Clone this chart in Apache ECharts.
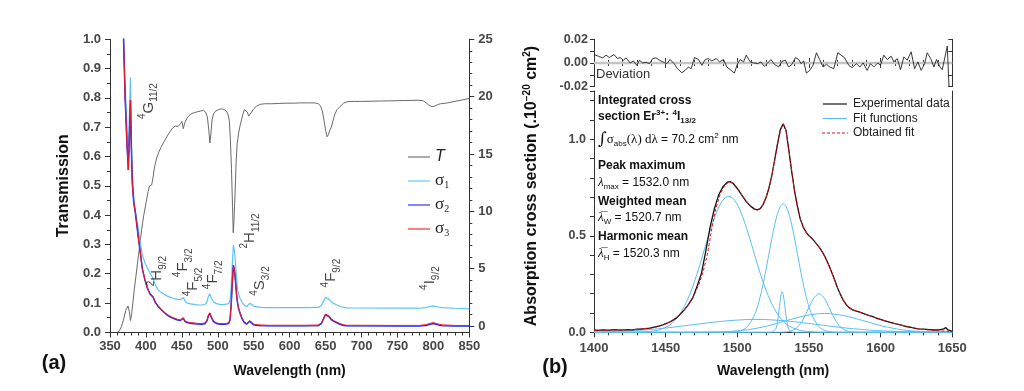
<!DOCTYPE html>
<html><head><meta charset="utf-8">
<script src="https://cdn.jsdelivr.net/npm/echarts@6/dist/echarts.min.js"></script>
<style>html,body{margin:0;padding:0;background:#fff}#c{width:1024px;height:391px}</style>
</head><body><div id="c"></div>
<script>
// ---------- (a) transmission ----------
const transWl = [360,363,366,369,372,375,377,378.5,380,382,384,386,388,390,392,394,397,400,403,405,408,410,412,415,418,421,425,429,433,437,441,445,448,450,452,454,457,460,464,468,472,476,480,483,485.5,487.5,489,490.5,492,494,497,501,505,509,512,514,516,517.5,519,520.5,521.5,522.5,524,525.5,527,529,531,533,535,537,539,541,543,545,547,550,554,559,565,575,585,595,605,615,625,635,640,643,645.5,648,650,652,654,656,658,660,663,666,670,675,680,690,700,720,740,760,780,786,790,794,798,802,806,810,820,830,840,850];
const transVal = [0,0.005,0.02,0.045,0.075,0.09,0.07,0.04,0.06,0.105,0.15,0.19,0.23,0.27,0.31,0.35,0.40,0.44,0.48,0.50,0.503,0.53,0.565,0.595,0.615,0.632,0.65,0.667,0.683,0.697,0.704,0.703,0.712,0.72,0.695,0.715,0.73,0.74,0.747,0.75,0.753,0.755,0.758,0.752,0.735,0.69,0.646,0.68,0.725,0.745,0.755,0.76,0.763,0.76,0.755,0.745,0.724,0.66,0.56,0.43,0.34,0.38,0.47,0.58,0.645,0.68,0.705,0.725,0.745,0.76,0.764,0.752,0.738,0.738,0.752,0.763,0.772,0.778,0.78,0.78,0.781,0.782,0.782,0.783,0.783,0.783,0.78,0.772,0.755,0.72,0.69,0.667,0.675,0.69,0.7,0.72,0.745,0.76,0.77,0.782,0.787,0.788,0.788,0.789,0.79,0.791,0.792,0.79,0.783,0.775,0.77,0.772,0.777,0.78,0.783,0.788,0.793,0.798];

// ---------- (a) cross sections ----------
const sigmaWl = [368,371,373.5,375.5,377,378.5,379.5,381,383,385,387,390,392,395,398.7,402,405.7,408,410,413,416.5,420,425,429,433,438,443,448,450,452,454,457,462,467,472,477,482,485,487,489,491,494,498,503,508,512,515,517,518.5,520,521.7,523,524.5,526,527.5,529,531,534,537,540,542,544.5,547,550,555,560,570,600,620,640,644,647,650,652.5,655,658,661,665,670,675,680,700,750,780,790,795,800,805,812,830,850];
const sigma1 = [27,21,17.5,15.6,18.5,21.7,17,13.5,11.2,10.2,9.4,8.2,7.3,6.2,5.5,5.05,4.6,4.45,4.15,3.6,3.2,2.98,2.78,2.63,2.52,2.42,2.34,2.29,2.3,2.48,2.22,2.02,1.93,1.88,1.85,1.83,1.87,2.1,2.6,2.8,2.45,2.1,1.95,1.89,1.87,1.9,1.95,2.2,3.3,5.1,7.05,6.6,5.6,4.2,3.2,2.75,2.4,2.05,1.8,1.68,1.8,1.98,1.88,1.74,1.66,1.62,1.6,1.6,1.6,1.62,1.78,2.15,2.5,2.55,2.3,2.1,1.98,1.85,1.7,1.62,1.57,1.57,1.55,1.55,1.6,1.7,1.75,1.68,1.6,1.55,1.5];
const sigma2 = [27,20,16,13.6,16.5,19.7,16,12.5,10.8,10.0,9.0,7.4,6.5,5.0,4.0,3.3,2.8,2.7,2.5,2.05,1.75,1.5,1.2,0.98,0.82,0.67,0.55,0.48,0.45,0.68,0.42,0.3,0.24,0.2,0.17,0.15,0.2,0.45,0.9,1.12,0.75,0.38,0.22,0.15,0.15,0.17,0.22,0.5,1.7,3.5,5.3,4.95,4.0,2.8,2.0,1.5,1.1,0.6,0.3,0.16,0.28,0.42,0.3,0.1,0.05,0.03,0.0,0.0,0.0,0.03,0.2,0.6,1.0,1.1,0.8,0.55,0.42,0.3,0.15,0.05,0.0,0.0,-0.02,-0.02,0.05,0.15,0.22,0.12,0.03,-0.03,-0.05];
const sigma3 = [27,20,16,13.6,16.5,19.7,16,12.5,10.8,10.0,9.0,7.4,6.5,5.0,4.0,3.3,2.85,2.75,2.55,2.1,1.8,1.55,1.25,1.03,0.87,0.72,0.6,0.53,0.5,0.72,0.47,0.36,0.3,0.26,0.23,0.21,0.26,0.5,0.95,1.15,0.8,0.44,0.28,0.21,0.21,0.23,0.28,0.55,1.75,3.5,5.3,4.95,4.0,2.85,2.05,1.55,1.15,0.66,0.36,0.22,0.33,0.47,0.36,0.16,0.11,0.09,0.06,0.06,0.06,0.09,0.26,0.65,1.05,1.12,0.85,0.6,0.47,0.36,0.21,0.11,0.06,0.06,0.05,0.05,0.12,0.22,0.3,0.2,0.1,0.05,0.04];

// energy level annotations (wavelength, transmission-axis value, term symbol)
const levelWl  = [403.6,415.4,451.6,465.5,493.3,544.8,558.7,657.5,795.3];
const levelT   = [0.789,0.209,0.237,0.172,0.196,0.346,0.175,0.202,0.185];
const levelSup = ['4','2','4','4','4','2','4','4','4'];
const levelMain= ['G','H','F','F','F','H','S','F','I'];
const levelSub = ['11/2','9/2','3/2','5/2','7/2','11/2','3/2','9/2','9/2'];

// ---------- (b) deviation ----------
const devWl = [1400.0,1403.0,1406.1,1408.4,1410.7,1414.0,1416.3,1418.2,1420.5,1422.4,1425.2,1427.5,1429.8,1431.7,1434.0,1436.3,1438.7,1441.0,1443.3,1445.7,1448.0,1450.8,1453.1,1455.9,1458.2,1461.3,1463.6,1465.9,1467.8,1470.1,1472.9,1475.3,1477.6,1479.9,1482.2,1485.3,1487.6,1490.4,1492.7,1495.1,1497.9,1500.2,1502.0,1504.4,1506.2,1509.0,1511.4,1514.2,1516.5,1518.8,1521.2,1523.5,1525.8,1528.8,1531.2,1533.5,1535.8,1538.2,1540.5,1542.8,1544.5,1546.3,1548.2,1550.5,1552.8,1555.2,1557.5,1559.8,1562.2,1564.5,1567.3,1570.1,1572.4,1574.7,1577.8,1580.1,1583.1,1585.5,1587.8,1590.6,1592.9,1595.2,1598.0,1599.9,1602.2,1604.6,1607.4,1609.2,1611.6,1613.9,1616.2,1618.5,1621.3,1623.7,1626.0,1628.3,1630.7,1632.5,1634.9,1637.2,1639.0,1641.4,1643.0,1646.5,1647.7,1648.4];
const devVal = [0.0071,0.0057,0.0043,0.0066,0.0046,0.0071,0.0037,0.0046,0.0023,0.0043,0,0.0017,-0.0020,0.0023,0,0.0006,-0.0006,0.0037,0.0043,0.0023,0.0009,-0.0006,0.0029,-0.0006,-0.0049,-0.0083,-0.0063,-0.0034,-0.0049,0.0046,0.0029,-0.0020,0.0029,0.0037,0.0017,0.0037,0.0009,0.0029,-0.0034,-0.0057,-0.0086,-0.0006,0.0029,0.0009,0.0066,0.0009,0,-0.0006,0.0009,-0.0029,0,0.0029,-0.0011,-0.0034,0.0014,0.0023,-0.0034,-0.0011,0.0046,0.0029,-0.0006,0.0017,-0.0086,-0.0063,-0.0020,0.0086,0.0029,-0.0034,-0.0011,-0.0034,-0.0049,0.0086,0.0066,0.0046,-0.0020,-0.0040,-0.0006,-0.0034,0,-0.0063,-0.0006,-0.0034,0,-0.0020,0.0066,0.0029,0.0057,0.0009,0.0037,-0.0057,0.0051,0.0023,0.0094,-0.0049,0.0009,-0.0063,-0.0006,0.0086,0.0037,-0.0034,0.0029,-0.0034,-0.0057,0.0143,-0.0206,-0.0250];
const zeroWl = [1400,1650];
const zeroVal = [0,0];

// ---------- (b) absorption ----------
const expWl = [1400,1403,1406,1409,1412,1415,1418,1421,1424,1427,1430,1433,1436,1439,1442,1445,1448,1451,1454,1457,1460,1463,1466,1469,1472,1475,1478,1481,1484,1487,1490,1493,1495,1497,1500,1503,1506,1509,1512,1514,1516,1518,1520,1522,1524,1526,1528,1530,1532,1534,1536,1538,1540,1542,1544,1546,1548,1550,1552,1554,1556,1558,1560,1562,1564,1566,1568,1570,1572,1574,1576,1578,1580,1583,1586,1590,1594,1598,1602,1606,1610,1614,1618,1622,1626,1630,1634,1638,1641,1644,1645.5,1647,1650];
const expVal = [0.012,0.010,0.013,0.011,0.012,0.014,0.011,0.013,0.014,0.013,0.016,0.017,0.019,0.022,0.027,0.032,0.039,0.047,0.058,0.072,0.092,0.116,0.145,0.180,0.240,0.306,0.420,0.545,0.640,0.712,0.754,0.778,0.781,0.772,0.745,0.712,0.680,0.655,0.638,0.634,0.641,0.662,0.697,0.745,0.810,0.890,0.975,1.050,1.080,1.045,0.940,0.830,0.730,0.650,0.585,0.545,0.518,0.500,0.487,0.470,0.452,0.432,0.408,0.378,0.345,0.308,0.270,0.228,0.195,0.165,0.143,0.128,0.118,0.110,0.103,0.092,0.082,0.071,0.062,0.053,0.045,0.038,0.030,0.024,0.018,0.016,0.014,0.012,0.013,0.018,0.024,0.012,0.005];
const fitWl = [1400,1410,1420,1430,1440,1445,1450,1455,1460,1465,1470,1473,1476,1479,1482,1485,1488,1491,1494,1497,1500,1503,1506,1509,1512,1514,1516,1518,1520,1522,1524,1526,1528,1530,1532,1534,1536,1538,1540,1542,1544,1546,1548,1550,1552,1554,1556,1558,1560,1562,1564,1566,1568,1570,1572,1574,1576,1578,1580,1584,1590,1596,1602,1608,1614,1620,1626,1632,1640,1650];
const fitVal = [0.010,0.011,0.012,0.015,0.022,0.030,0.044,0.062,0.090,0.135,0.195,0.245,0.31,0.40,0.53,0.64,0.715,0.758,0.778,0.772,0.748,0.714,0.682,0.656,0.639,0.635,0.642,0.663,0.698,0.746,0.808,0.888,0.972,1.045,1.078,1.044,0.942,0.830,0.730,0.650,0.587,0.546,0.519,0.501,0.486,0.470,0.452,0.431,0.407,0.378,0.345,0.307,0.268,0.228,0.194,0.166,0.144,0.129,0.119,0.107,0.092,0.077,0.062,0.049,0.037,0.027,0.019,0.013,0.008,0.005];
const fitFunc1 = [[1400,0],[1426,0.0002],[1443,0.008],[1451.5,0.031],[1455.75,0.056],[1460,0.095],[1464.25,0.153],[1468.5,0.229],[1472.75,0.323],[1477,0.428],[1481.25,0.532],[1485.5,0.622],[1489.75,0.683],[1494,0.705],[1498.25,0.683],[1502.5,0.622],[1506.75,0.532],[1511,0.428],[1515.25,0.323],[1519.5,0.229],[1523.75,0.153],[1528,0.095],[1532.25,0.056],[1536.5,0.031],[1545,0.008],[1562,0.0002],[1650,0]];
const fitFunc2 = [[1400,0],[1492,0],[1502,0.007],[1507,0.029],[1512,0.090],[1514.5,0.144],[1517,0.216],[1519.5,0.305],[1522,0.404],[1524.5,0.502],[1527,0.587],[1529.5,0.644],[1532,0.665],[1534.5,0.644],[1537,0.587],[1539.5,0.502],[1542,0.404],[1544.5,0.305],[1547,0.216],[1549.5,0.144],[1552,0.090],[1557,0.029],[1562,0.007],[1572,0],[1650,0]];
const fitFunc3 = [[1400,0],[1523,0],[1525,0.004],[1527,0.021],[1528.5,0.079],[1529.5,0.14],[1530.5,0.194],[1531.3,0.21],[1532,0.197],[1533,0.146],[1534,0.084],[1535.5,0.023],[1537.5,0.003],[1540,0],[1650,0]];
const fitFunc4 = [[1400,0],[1527,0],[1534.5,0.002],[1538.25,0.009],[1542,0.027],[1545.75,0.065],[1549.5,0.121],[1553.25,0.176],[1557,0.2],[1560.75,0.176],[1564.5,0.121],[1568.25,0.065],[1572,0.027],[1575.75,0.009],[1579.5,0.002],[1587,0],[1650,0]];
const fitFunc5 = [[1400,0],[1453,0],[1480,0.001],[1493.5,0.004],[1507,0.013],[1520.5,0.032],[1534,0.060],[1547.5,0.086],[1561,0.098],[1574.5,0.086],[1588,0.060],[1601.5,0.032],[1615,0.013],[1628.5,0.004],[1642,0.001],[1650,0]];
const fitFunc6 = [[1400,0.002],[1408,0.003],[1429,0.009],[1450,0.022],[1471,0.041],[1492,0.059],[1513,0.067],[1534,0.059],[1555,0.041],[1576,0.022],[1597,0.009],[1618,0.003],[1639,0.001],[1650,0]];

// ---------- helpers & styles ----------
const zip = (a, b) => a.map((x, i) => [x, b[i]]);
const FONT = 'Liberation Sans, Arial, Helvetica, sans-serif';
const AX = '#333';
const LAB = '#474747';
const labStyle = {fontFamily: FONT, fontWeight: 'bold', fontSize: 13, color: LAB};
const nameStyle = {fontFamily: FONT, fontWeight: 'bold', fontSize: 14, color: '#111'};
const C1 = '#5cc3f6', C2 = '#2424f5', C3 = '#f01c24', CFIT = '#5bbdf2';
const lineAx = {show: true, lineStyle: {color: AX, width: 1}};
const tickOut = {show: true, length: 5, lineStyle: {color: AX}};
const tickIn = {show: true, inside: true, length: 5, lineStyle: {color: AX}};
const noSplit = {show: false};
const SOLID = 'path://M0,0H20V1H0Z';
const DASH = 'path://M0,0h3v1h-3zM5,0h3v1h-3zM10,0h3v1h-3zM15,0h3v1h-3zM20,0h3v1h-3zM25,0h1v1h-1z';
const plain = v => String(v);

const chart = echarts.init(document.getElementById('c'), null, {renderer: 'canvas'});

const levelData = levelWl.map((w, i) => [w, levelT[i], levelSup[i], levelMain[i], levelSub[i]]);

function richLine(x, y, text, extra) {
  return Object.assign({
    type: 'text', x: x, y: y, silent: true,
    style: {
      text: text, align: 'left', verticalAlign: 'middle', fill: '#111',
      fontFamily: FONT, fontSize: 12, lineHeight: 16,
      rich: {
        b: {fontFamily: FONT, fontWeight: 'bold', fontSize: 12, lineHeight: 16, fill: '#111'},
        bsup: {fontFamily: FONT, fontWeight: 'bold', fontSize: 8, lineHeight: 8, verticalAlign: 'top', fill: '#111'},
        bsub: {fontFamily: FONT, fontWeight: 'bold', fontSize: 8, lineHeight: 8, verticalAlign: 'bottom', fill: '#111'},
        n: {fontFamily: FONT, fontSize: 12, lineHeight: 16, fill: '#111'},
        ser: {fontFamily: 'Liberation Serif, serif', fontSize: 13, lineHeight: 16, fill: '#111'},
        it: {fontFamily: 'Liberation Serif, serif', fontStyle: 'italic', fontSize: 13, lineHeight: 16, fill: '#111'},
        sub: {fontFamily: FONT, fontSize: 8, lineHeight: 8, verticalAlign: 'bottom', fill: '#111'},
        sup: {fontFamily: FONT, fontSize: 8, lineHeight: 8, verticalAlign: 'top', fill: '#111'},
        int: {fontFamily: 'DejaVu Serif, serif', fontSize: 17, lineHeight: 16, fill: '#111'}
      }
    }
  }, extra || {});
}

const option = {
  animation: false,
  backgroundColor: '#fff',
  textStyle: {fontFamily: FONT},
  grid: [
    {left: 110, top: 39.3, width: 359.3, height: 293},
    {left: 110, top: 39.3, width: 359.3, height: 286.7},
    {left: 594, top: 39.3, width: 358.3, height: 47.3},
    {left: 594, top: 91, width: 358.3, height: 241.3}
  ],
  xAxis: [
    {gridIndex: 0, type: 'value', min: 350, max: 850, interval: 50, position: 'bottom',
     axisLine: lineAx, axisTick: tickOut, minorTick: {show: true, splitNumber: 5, length: 3, lineStyle: {color: AX}},
     splitLine: noSplit, minorSplitLine: noSplit, axisLabel: Object.assign({margin: 8, formatter: plain}, labStyle),
     name: 'Wavelength (nm)', nameLocation: 'middle', nameGap: 32, nameTextStyle: nameStyle},
    {gridIndex: 0, type: 'value', min: 350, max: 850, interval: 50, position: 'top',
     axisLine: lineAx, axisTick: tickIn, minorTick: {show: true, splitNumber: 5, length: 3, lineStyle: {color: AX}},
     splitLine: noSplit, axisLabel: {show: false}},
    {gridIndex: 1, type: 'value', min: 350, max: 850, show: false, splitLine: noSplit},
    {gridIndex: 2, type: 'value', min: 1400, max: 1650, interval: 50, position: 'bottom',
     axisLine: lineAx, axisTick: tickIn, minorTick: {show: true, splitNumber: 5, length: 3, lineStyle: {color: AX}},
     splitLine: noSplit, axisLabel: {show: false}},
    {gridIndex: 2, type: 'value', min: 1400, max: 1650, interval: 50, position: 'top',
     axisLine: lineAx, axisTick: tickIn, minorTick: {show: true, splitNumber: 5, length: 3, lineStyle: {color: AX}},
     splitLine: noSplit, axisLabel: {show: false}},
    {gridIndex: 3, type: 'value', min: 1400, max: 1650, interval: 50, position: 'bottom',
     axisLine: lineAx, axisTick: tickOut, minorTick: {show: true, splitNumber: 5, length: 3, lineStyle: {color: AX}},
     splitLine: noSplit, axisLabel: Object.assign({margin: 10, formatter: plain}, labStyle),
     name: 'Wavelength (nm)', nameLocation: 'middle', nameGap: 32, nameTextStyle: nameStyle},
    {gridIndex: 3, type: 'value', min: 1400, max: 1650, position: 'top',
     axisLine: lineAx, axisTick: {show: false}, splitLine: noSplit, axisLabel: {show: false}}
  ],
  yAxis: [
    {gridIndex: 0, type: 'value', min: 0, max: 1, interval: 0.1, position: 'left',
     axisLine: lineAx, axisTick: tickOut, minorTick: {show: true, splitNumber: 2, length: 3, lineStyle: {color: AX}},
     splitLine: noSplit, axisLabel: Object.assign({margin: 9, formatter: v => v.toFixed(1)}, labStyle),
     name: 'Transmission', nameLocation: 'middle', nameGap: 38,
     nameTextStyle: {fontFamily: FONT, fontWeight: 'bold', fontSize: 16, color: '#111'}},
    {gridIndex: 1, type: 'value', min: 0, max: 25, interval: 5, position: 'right',
     axisLine: lineAx, axisTick: tickOut, minorTick: {show: true, splitNumber: 5, length: 3, lineStyle: {color: AX}},
     splitLine: noSplit, axisLabel: Object.assign({margin: 9}, labStyle)},
    {gridIndex: 0, type: 'value', min: 0, max: 1, position: 'right',
     axisLine: lineAx, axisTick: {show: false}, splitLine: noSplit, axisLabel: {show: false}},
    {gridIndex: 2, type: 'value', min: -0.02, max: 0.02, interval: 0.01, position: 'left',
     axisLine: lineAx, axisTick: {show: true, length: 4, lineStyle: {color: AX}},
     splitLine: noSplit,
     axisLabel: Object.assign({margin: 6, formatter: v => (Math.round(v * 100) % 2 === 0 ? (Math.abs(v) < 1e-9 ? '0.00' : v.toFixed(2)) : '')}, labStyle, {fontSize: 12.5})},
    {gridIndex: 2, type: 'value', min: -0.02, max: 0.02, interval: 0.01, position: 'right',
     axisLine: lineAx, axisTick: {show: true, inside: true, length: 4, lineStyle: {color: AX}},
     splitLine: noSplit, axisLabel: {show: false}},
    {gridIndex: 3, type: 'value', min: 0, max: 1.25, interval: 0.1, position: 'left',
     axisLine: lineAx, axisTick: {show: true, length: 4, lineStyle: {color: AX}},
     splitLine: noSplit,
     axisLabel: Object.assign({margin: 8, formatter: v => (Math.abs(v * 2 - Math.round(v * 2)) < 1e-6 ? v.toFixed(1) : '')}, labStyle, {fontSize: 12.5})},
    {gridIndex: 3, type: 'value', min: 0, max: 1.25, position: 'right',
     axisLine: lineAx, axisTick: {show: false}, splitLine: noSplit, axisLabel: {show: false}}
  ],
  legend: [
    {left: 408, top: 148, orient: 'vertical', padding: 0, itemGap: 6, itemWidth: 22, itemHeight: 1.5,
     itemStyle: {borderWidth: 0},
     data: [{name: 'T', icon: SOLID}, {name: 'σ1', icon: SOLID}, {name: 'σ2', icon: SOLID}, {name: 'σ3', icon: SOLID}],
     formatter: name => name === 'T' ? '{it|T}' : '{s|σ}{sub|' + name.slice(1) + '}',
     textStyle: {color: '#222', fontSize: 15, lineHeight: 18,
       rich: {
         it: {fontFamily: FONT, fontStyle: 'italic', fontSize: 16, lineHeight: 18, color: '#222'},
         s: {fontFamily: 'Liberation Serif, serif', fontSize: 17, lineHeight: 18, color: '#222'},
         sub: {fontFamily: 'Liberation Serif, serif', fontSize: 10, lineHeight: 10, verticalAlign: 'bottom', color: '#222'}
       }}},
    {left: 822, top: 97, orient: 'vertical', padding: 0, itemGap: 0.5, itemWidth: 26, itemHeight: 1.2,
     itemStyle: {borderWidth: 0},
     data: [{name: 'Experimental data', icon: SOLID}, {name: 'Fit functions', icon: SOLID}, {name: 'Obtained fit', icon: DASH}],
     textStyle: {fontFamily: FONT, fontSize: 12, lineHeight: 14, color: '#222'}}
  ],
  series: [
    {name: 'T', type: 'line', xAxisIndex: 0, yAxisIndex: 0, data: zip(transWl, transVal), symbol: 'none',
     color: '#6a6a6a', lineStyle: {width: 1, color: '#6a6a6a'}, z: 3},
    {name: 'σ1', type: 'line', xAxisIndex: 2, yAxisIndex: 1, data: zip(sigmaWl, sigma1), symbol: 'none',
     color: C1, lineStyle: {width: 1.2, color: C1}, z: 3},
    {name: 'σ2', type: 'line', xAxisIndex: 2, yAxisIndex: 1, data: zip(sigmaWl, sigma2), symbol: 'none',
     color: C2, lineStyle: {width: 1.5, color: C2}, z: 3},
    {name: 'σ3', type: 'line', xAxisIndex: 2, yAxisIndex: 1, data: zip(sigmaWl, sigma3), symbol: 'none',
     color: C3, lineStyle: {width: 1, color: C3}, z: 4},
    {type: 'scatter', xAxisIndex: 0, yAxisIndex: 0, data: levelData, symbolSize: 0, silent: true, z: 5,
     label: {show: true, position: 'inside', rotate: 90, align: 'center', verticalAlign: 'middle',
       formatter: p => '{sup|' + p.data[2] + '}{m|' + p.data[3] + '}{sub|' + p.data[4] + '}',
       rich: {
         sup: {fontFamily: FONT, fontSize: 10, lineHeight: 10, verticalAlign: 'top', color: '#111'},
         m: {fontFamily: FONT, fontSize: 15, lineHeight: 22, color: '#111'},
         sub: {fontFamily: FONT, fontSize: 10, lineHeight: 10, verticalAlign: 'bottom', color: '#111'}
       }}},
    {type: 'line', xAxisIndex: 3, yAxisIndex: 3, data: zip(zeroWl, zeroVal), symbol: 'none', silent: true,
     color: '#c4c4c4', lineStyle: {width: 2.5, color: '#c4c4c4'}, z: 1},
    {name: 'Deviation', type: 'line', xAxisIndex: 3, yAxisIndex: 3, data: zip(devWl, devVal), symbol: 'none',
     color: '#222', lineStyle: {width: 0.9, color: '#222'}, z: 3},
    ...[fitFunc1, fitFunc2, fitFunc3, fitFunc4, fitFunc5, fitFunc6].map(f => ({
      name: 'Fit functions', type: 'line', xAxisIndex: 5, yAxisIndex: 5, data: f, symbol: 'none', smooth: 0.3,
      color: CFIT, lineStyle: {width: 1, color: CFIT}, z: 2})),
    {name: 'Experimental data', type: 'line', xAxisIndex: 5, yAxisIndex: 5, data: zip(expWl, expVal), symbol: 'none',
     color: '#111', lineStyle: {width: 1.3, color: '#111'}, z: 3},
    {name: 'Obtained fit', type: 'line', xAxisIndex: 5, yAxisIndex: 5, data: zip(fitWl, fitVal), symbol: 'none',
     color: '#e8101a', lineStyle: {width: 1, color: '#e8101a', type: [3, 2]}, z: 4}
  ],
  graphic: [
    {type: 'text', x: 54, y: 363, silent: true,
     style: {text: '(a)', fontFamily: FONT, fontWeight: 'bold', fontSize: 20, fill: '#111', align: 'center', verticalAlign: 'middle'}},
    {type: 'text', x: 555, y: 367, silent: true,
     style: {text: '(b)', fontFamily: FONT, fontWeight: 'bold', fontSize: 20, fill: '#111', align: 'center', verticalAlign: 'middle'}},
    {type: 'text', x: 532, y: 186, rotation: Math.PI / 2, silent: true,
     style: {text: 'Absorption cross section (.10{sup|−20} cm{sup|2})', fontFamily: FONT, fontWeight: 'bold', fontSize: 16,
       lineHeight: 20, fill: '#111', align: 'center', verticalAlign: 'middle',
       rich: {sup: {fontFamily: FONT, fontWeight: 'bold', fontSize: 10, lineHeight: 10, verticalAlign: 'top', fill: '#111'}}}},
    {type: 'text', x: 596, y: 74.5, silent: true,
     style: {text: 'Deviation', fontFamily: FONT, fontSize: 13, fill: '#333', align: 'left', verticalAlign: 'middle'}},
    richLine(598, 101, '{b|Integrated cross}'),
    richLine(598, 117, '{b|section Er}{bsup|3+}{b|: }{bsup|4}{b|I}{bsub|13/2}'),
    richLine(598, 139.5, '{int|∫}{ser|σ}{sub|abs}{ser|(λ) dλ}{n| = 70.2 cm}{sup|2}{n| nm}'),
    richLine(598, 166, '{b|Peak maximum}'),
    richLine(598, 183, '{it|λ}{sub|max}{n| = 1532.0 nm}'),
    richLine(598, 202, '{b|Weighted mean}'),
    richLine(598, 218, '{it|λ\u0305}{sub|W}{n| = 1520.7 nm}'),
    richLine(598, 237, '{b|Harmonic mean}'),
    richLine(598, 253.5, '{it|λ\u0305}{sub|H}{n| = 1520.3 nm}')
  ]
};
chart.setOption(option);
</script>
</body></html>
